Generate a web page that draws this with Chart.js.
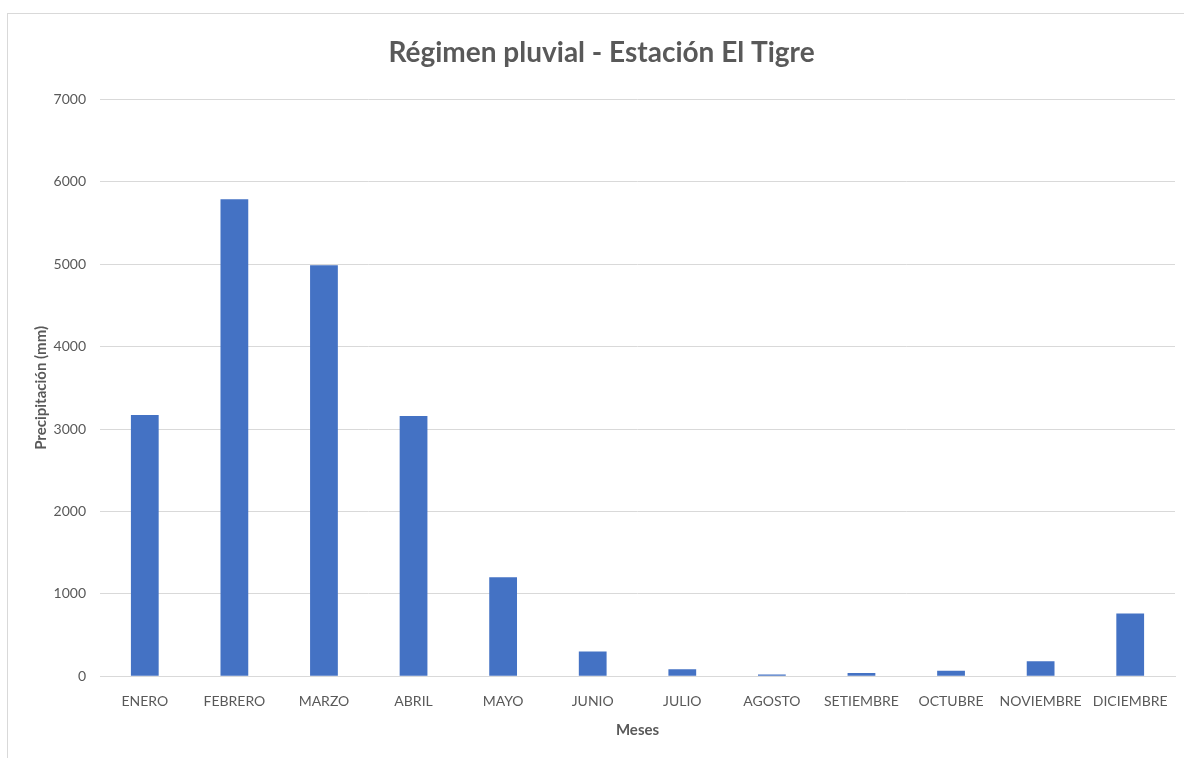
<!DOCTYPE html>
<html>
<head>
<meta charset="utf-8">
<script src="https://cdn.jsdelivr.net/npm/chart.js@4/dist/chart.umd.min.js"></script>
<style>
    body { margin: 0; background: #fff; }
    #frame {
        position: absolute; left: 7px; top: 13px; width: 1200px; height: 760px;
        border-left: 1px solid #d9d9d9; border-top: 1px solid #d9d9d9;
    }
    #wrap { position: absolute; left: 0; top: 0; width: 1184px; height: 758px; }
</style>
</head>
<body>
<div id="frame"></div>
<div id="wrap"><canvas id="rainChart"></canvas></div>
<script>
// Datos
const meses = ['ENERO', 'FEBRERO', 'MARZO', 'ABRIL', 'MAYO', 'JUNIO', 'JULIO',
    'AGOSTO', 'SETIEMBRE', 'OCTUBRE', 'NOVIEMBRE', 'DICIEMBRE'];
const precipitacion = [3170, 5790, 4990, 3160, 1200, 300, 85, 20, 40, 65, 180, 760];
const yTicks = [0, 1000, 2000, 3000, 4000, 5000, 6000, 7000];

const fontName = "Lato, 'Open Sans', sans-serif";
const grey = '#595959';

const ctx = document.getElementById('rainChart').getContext('2d');
const rainChart = new Chart(ctx, {
    type: 'bar',
    data: {
        labels: meses,
        datasets: [{
            label: 'Precipitación (mm)',
            data: precipitacion,
            backgroundColor: '#4472c4',
            barPercentage: 0.31,
            categoryPercentage: 1
        }]
    },
    options: {
        responsive: true,
        maintainAspectRatio: false,
        animation: false,
        layout: { padding: { left: 28, right: 9, top: 36, bottom: 15 } },
        plugins: {
            legend: { display: false },
            tooltip: { enabled: false },
            title: {
                display: true,
                text: 'Régimen pluvial - Estación El Tigre',
                color: grey,
                font: { family: fontName, size: 28, weight: 'bold' },
                padding: { top: 0, bottom: 30 }
            }
        },
        scales: {
            x: {
                grid: { display: false },
                border: { color: '#d9d9d9', width: 1 },
                ticks: {
                    color: grey,
                    font: { family: fontName, size: 14 },
                    maxRotation: 0,
                    autoSkip: false,
                    padding: 9
                },
                title: {
                    display: true,
                    text: 'Meses',
                    color: grey,
                    font: { family: fontName, size: 15, weight: 'bold' },
                    padding: { top: 2 }
                }
            },
            y: {
                min: 0,
                max: 7000,
                afterBuildTicks: (axis) => {
                    axis.ticks = yTicks.map(v => ({ value: v }));
                },
                afterFit: (axis) => { axis.width = 72; },
                grid: { color: '#d9d9d9', drawTicks: false },
                border: { display: false },
                ticks: {
                    color: grey,
                    font: { family: fontName, size: 14 },
                    padding: 14,
                    callback: (v) => String(v)
                },
                title: {
                    display: true,
                    text: 'Precipitación (mm)',
                    color: grey,
                    font: { family: fontName, size: 15, weight: 'bold' },
                    padding: { bottom: 6 }
                }
            }
        }
    }
});
</script>
</body>
</html>
